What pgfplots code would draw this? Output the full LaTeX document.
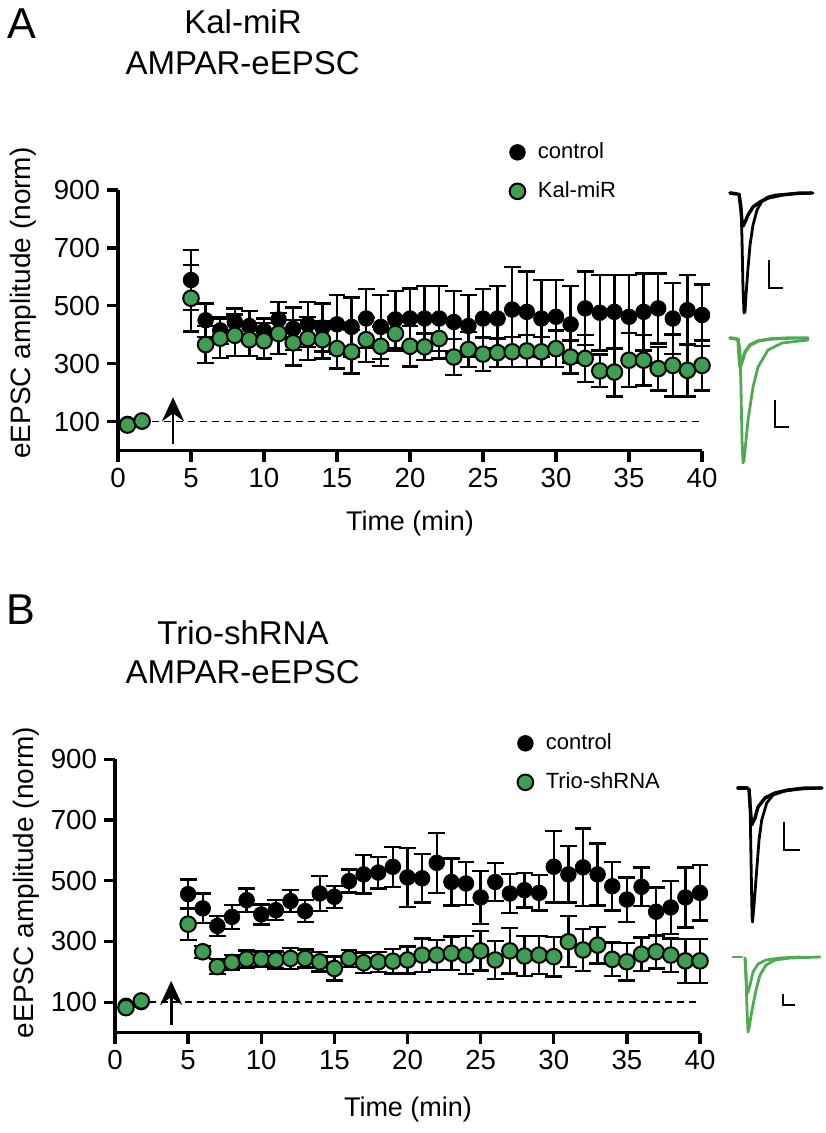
\documentclass[border=0pt]{standalone}
\usepackage{fontspec}
\setmainfont{Liberation Sans}
\usepackage{pgfplots}
\usepackage{pgfplotstable}
\pgfplotsset{compat=1.18}
\usetikzlibrary{arrows.meta}

\definecolor{mkgreen}{RGB}{62,158,82}
\definecolor{trgreen}{RGB}{80,170,84}

% panel A: Kal-miR
\pgfplotstableread{
t v e
0.65 92 0
1.65 100 0
5 589 104
6 450 58
7 415 47
8 444 47
9 430 53
10 413 43
11 453 61
12 421 73
13 436 78
14 425 83
15 436 101
16 427 102
17 456 102
18 427 110
19 453 99
20 456 104
21 456 112
22 456 112
23 444 108
24 430 107
25 456 101
26 456 112
27 487 148
28 479 139
29 456 133
30 462 127
31 436 132
32 491 127
33 476 130
34 479 127
35 462 144
36 479 133
37 491 121
38 456 123
39 485 121
40 468 106
}\ctlA
\pgfplotstableread{
t v e
0.65 88 0
1.65 102 0
5 526 115
6 366 64
7 388 68
8 398 72
9 383 57
10 379 61
11 404 71
12 372 78
13 387 75
14 383 65
15 352 69
16 341 75
17 383 77
18 360 69
19 404 58
20 360 70
21 358 46
22 387 69
23 323 63
24 349 60
25 333 58
26 338 49
27 341 52
28 344 55
29 341 52
30 352 63
31 323 57
32 318 81
33 275 56
34 271 84
35 312 93
36 312 87
37 283 75
38 294 107
39 277 90
40 294 86
}\kalA

% panel B: Trio-shRNA
\pgfplotstableread{
t v e
0.75 88 0
1.8 100 0
5 456 48
6 409 49
7 351 33
8 381 39
9 436 39
10 389 33
11 403 33
12 433 36
13 400 36
14 458 58
15 447 36
16 499 38
17 521 63
18 527 52
19 546 66
20 511 97
21 508 80
22 559 99
23 496 77
24 491 71
25 445 88
26 496 63
27 458 64
28 469 57
29 460 58
30 546 118
31 521 93
32 544 128
33 521 102
34 482 80
35 438 73
36 480 64
37 398 80
38 412 88
39 445 99
40 460 91
}\ctlB
\pgfplotstableread{
t v e
0.75 82 0
1.8 104 0
5 357 53
6 266 20
7 217 25
8 231 25
9 242 28
10 242 25
11 239 28
12 244 35
13 244 30
14 233 32
15 211 40
16 244 28
17 230 33
18 233 33
19 235 40
20 239 45
21 255 55
22 255 50
23 261 55
24 255 62
25 269 65
26 239 62
27 269 75
28 252 65
29 255 62
30 250 65
31 299 84
32 272 70
33 288 60
34 241 55
35 233 62
36 258 55
37 266 55
38 255 55
39 236 72
40 236 72
}\trioB

\pgfplotsset{
  panel/.style={
    scale only axis, anchor=south west,
    xmin=0, xmax=40, ymin=0, ymax=900,
    axis x line=bottom, axis y line=left,
    axis line style={-, line width=1.65pt},
    xtick={0,5,...,40}, ytick={100,300,...,900},
    tick style={line width=1.65pt, black},
    major tick length=5.5pt, tick align=outside,
    tick label style={font=\fontsize{13.8}{16}\selectfont},
    /pgf/number format/assume math mode=true,
    clip=false,
    legend style={draw=none, fill=none, font=\fontsize{11}{13}\selectfont,
      anchor=north west, inner sep=0pt, row sep=9.5pt, column sep=6.3pt,
      nodes={inner sep=0pt, text height=8pt, text depth=2pt}},
    legend cell align=left,
  },
  ebar/.style={only marks, mark=*, mark size=3.9pt,
    error bars/y dir=both, error bars/y explicit,
    error bars/error bar style={line width=1.2pt, black},
    error bars/error mark options={rotate=90, line width=1.2pt, mark size=4.2pt, black}},
  trace/.style={line width=1.4pt, line join=round, line cap=round},
}

\begin{document}
\begin{tikzpicture}
\useasboundingbox (0,0) rectangle (412.5pt,-566.5pt);

% ---- panel A
\node[anchor=base west, font=\fontsize{21.6}{24}\selectfont] at (0pt,-19.5pt) {A};
\node[anchor=base, font=\fontsize{16.5}{19}\selectfont] at (121.5pt,-16.6pt) {Kal-miR};
\node[anchor=base, font=\fontsize{16.5}{19}\selectfont] at (121.3pt,-37.5pt) {AMPAR-eEPSC};
\node[rotate=90, font=\fontsize{14}{16}\selectfont] at (11.7pt,-151.5pt) {eEPSC amplitude (norm)};
\node[anchor=base, font=\fontsize{13.5}{16}\selectfont] at (205pt,-265pt) {Time (min)};

\begin{axis}[panel, at={(59pt,-225.25pt)}, width=292pt, height=130.25pt,
  legend style={at={(axis cs:26.8,1066)}}]
\draw[dashed, line width=0.8pt, dash pattern=on 3.5pt off 2.5pt] (axis cs:2.33,100) -- (axis cs:40,100);
\addplot[ebar, black, mark options={fill=black, draw=black}] table[x=t, y=v, y error=e] {\ctlA};
\addplot[ebar, black, mark options={fill=mkgreen, draw=black, line width=1pt}] table[x=t, y=v, y error=e] {\kalA};
\draw[-{Stealth[length=12pt, width=11pt]}, line width=1.4pt] (axis cs:3.77,22) -- (axis cs:3.77,184);
\legend{control, Kal-miR}
\end{axis}

% ---- panel B
\node[anchor=base west, font=\fontsize{21.6}{24}\selectfont] at (-0.5pt,-312pt) {B};
\node[anchor=base, font=\fontsize{16.5}{19}\selectfont] at (121.5pt,-322.2pt) {Trio-shRNA};
\node[anchor=base, font=\fontsize{16.5}{19}\selectfont] at (121.3pt,-341.8pt) {AMPAR-eEPSC};
\node[rotate=90, font=\fontsize{14}{16}\selectfont] at (12.9pt,-441.2pt) {eEPSC amplitude (norm)};
\node[anchor=base, font=\fontsize{13.5}{16}\selectfont] at (204pt,-558pt) {Time (min)};

\begin{axis}[panel, at={(57.5pt,-516.25pt)}, width=292.5pt, height=136.6pt,
  legend style={at={(axis cs:27.5,987)}}]
\draw[dashed, line width=0.8pt, dash pattern=on 3.5pt off 2.5pt] (axis cs:2.3,100) -- (axis cs:40,100);
\addplot[ebar, black, mark options={fill=black, draw=black}] table[x=t, y=v, y error=e] {\ctlB};
\addplot[ebar, black, mark options={fill=mkgreen, draw=black, line width=1pt}] table[x=t, y=v, y error=e] {\trioB};
\draw[-{Stealth[length=12pt, width=11pt]}, line width=1.4pt] (axis cs:3.84,25) -- (axis cs:3.84,170);
\legend{control, Trio-shRNA}
\end{axis}

% ---- example traces (page pixel frame: x right, y = -row)
\begin{axis}[at={(0pt,0pt)}, anchor=north west, scale only axis,
  width=412.5pt, height=566.5pt, xmin=0, xmax=825, ymin=-1133, ymax=0,
  hide axis, clip=false]
% A control
\addplot[black, trace, line width=1.8pt] coordinates {(730,-193)(737,-194)};
\addplot[black, trace] coordinates {(739,-194)(741,-205)(742,-240)(743,-290)(744,-313)(745,-312)(746,-295)(748,-268)(750,-245)(753,-225)(757,-210)(762,-201)(768,-197)(776,-195)(790,-194)(813,-193)};
\addplot[black, trace, line width=1.7pt] coordinates {(739,-194)(741,-210)(742,-222)(743,-226)(745,-222)(748,-215)(753,-207)(760,-202)(768,-198)(782,-195)(800,-193)(812,-193)};
\addplot[black, line width=0.9pt] coordinates {(769,-260)(769,-288)(783,-288)};
% A Kal-miR
\addplot[trgreen, trace, line width=1.8pt] coordinates {(730,-338)(737,-339)};
\addplot[trgreen, trace] coordinates {(738,-339)(740,-350)(741,-390)(742,-440)(743,-463)(744,-460)(746,-440)(748,-420)(753,-387)(758,-367)(768,-350)(782,-343)(808,-340)};
\addplot[trgreen, trace, line width=1.7pt] coordinates {(738,-339)(739,-355)(740,-367)(742,-362)(745,-352)(750,-345)(758,-341)(770,-339)(790,-338)(808,-338)};
\addplot[black, line width=0.9pt] coordinates {(775,-400)(775,-427)(789,-427)};
% B control
\addplot[black, trace, line width=1.8pt] coordinates {(738,-788)(747,-788)};
\addplot[black, trace] coordinates {(749,-789)(750,-800)(751,-860)(752,-915)(752.5,-922)(754,-905)(756.7,-870)(759,-840)(761.7,-820)(766.7,-803)(773,-795)(785,-791)(800,-789)(822,-788)};
\addplot[black, trace, line width=1.7pt] coordinates {(749,-789)(750,-805)(751.7,-825)(753,-822)(755,-818)(758,-807)(765,-798)(775,-793)(788,-790)(805,-788)(822,-788)};
\addplot[black, line width=0.9pt] coordinates {(784.3,-821.7)(784.3,-850)(800,-850)};
% B Trio-shRNA
\addplot[trgreen, trace] coordinates {(733,-957)(742,-957)};
\addplot[trgreen, trace] coordinates {(745,-958)(746,-975)(747,-1010)(748,-1032)(749,-1028)(752,-1010)(756,-990)(760,-975)(766,-965)(775,-960)(790,-958)(820,-957)};
\addplot[trgreen, trace] coordinates {(745,-958)(746,-978)(747,-993)(748,-992)(750,-985)(753,-972)(758,-964)(766,-960)(780,-958)(800,-957)};
\addplot[black, line width=0.9pt] coordinates {(783,-994)(783,-1005)(795,-1005)};
\end{axis}
\end{tikzpicture}
\end{document}
